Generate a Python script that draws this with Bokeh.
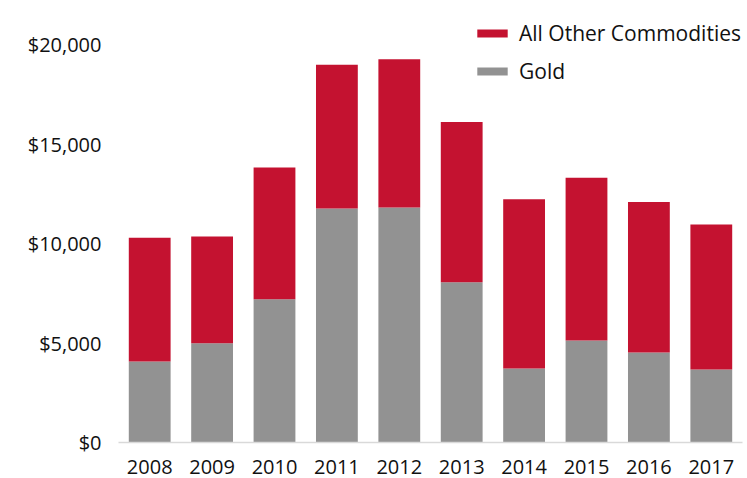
from bokeh.plotting import figure
from bokeh.models import Legend, LegendItem, NumeralTickFormatter, Range1d, FactorRange
from bokeh.embed import file_html
from bokeh.resources import INLINE

years = ["2008", "2009", "2010", "2011", "2012", "2013", "2014", "2015", "2016", "2017"]
gold = [4070, 4990, 7200, 11760, 11810, 8050, 3720, 5130, 4520, 3670]
total = [10290, 10350, 13820, 18980, 19260, 16110, 12220, 13300, 12080, 10960]
other = [t - g for t, g in zip(total, gold)]

FONT = "Open Sans"
RED = "#C41230"
GRAY = "#929292"

p = figure(x_range=FactorRange(*years, range_padding=0.0), y_range=Range1d(0, 21709),
           width=747, height=478, output_backend="svg", toolbar_location=None,
           min_border_left=118, min_border_right=5, min_border_top=10, min_border_bottom=36)

src = dict(years=years, gold=gold, other=other)
r = p.vbar_stack(["gold", "other"], x="years", width=0.67, color=[GRAY, RED],
                 line_color=None, source=src)

legend = Legend(items=[LegendItem(label="All Other Commodities", renderers=[r[1]]),
                       LegendItem(label="Gold", renderers=[r[0]])],
                location=(355, 357))
legend.border_line_color = None
legend.background_fill_alpha = 0
legend.glyph_width = 38
legend.glyph_height = 10
legend.label_height = 20
legend.spacing = 10
legend.label_standoff = 8
legend.padding = 0
legend.margin = 0
legend.label_text_font = FONT
legend.label_text_font_size = "21px"
legend.label_text_color = "#111111"
p.add_layout(legend, "center")

p.xgrid.visible = False
p.ygrid.visible = False
p.outline_line_color = None

p.yaxis.formatter = NumeralTickFormatter(format="$0,0")
p.yaxis.ticker = [0, 5000, 10000, 15000, 20000]
p.yaxis.axis_line_color = None
p.yaxis.major_tick_line_color = None
p.yaxis.minor_tick_line_color = None
p.yaxis.major_label_standoff = 11
p.yaxis.major_label_text_font = FONT
p.yaxis.major_label_text_font_size = "20px"
p.yaxis.major_label_text_color = "#111111"

p.xaxis.axis_line_color = "#d9d9d9"
p.xaxis.axis_line_width = 1.5
p.xaxis.major_tick_line_color = None
p.xaxis.minor_tick_line_color = None
p.xaxis.major_label_standoff = 11
p.xaxis.major_label_text_font = FONT
p.xaxis.major_label_text_font_size = "20px"
p.xaxis.major_label_text_color = "#111111"

open("out.html", "w").write(file_html(p, INLINE))
